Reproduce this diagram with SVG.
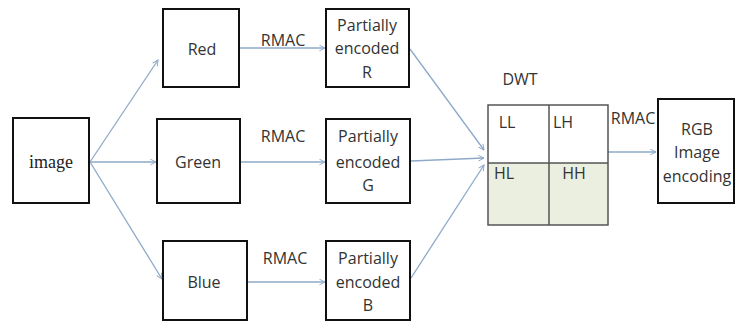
<svg xmlns="http://www.w3.org/2000/svg" width="736" height="322" viewBox="0 0 736 322">
<style>
.box{fill:#fff;stroke:#111;stroke-width:2}
.t{font-family:"Open Sans","Liberation Sans",sans-serif;font-size:16px;fill:#333;text-anchor:middle}
.c{stroke:#8ea9c8;stroke-width:1.3;fill:none;marker-end:url(#ah)}
.g{stroke:#555;stroke-width:1.5}
</style>
<defs>
<marker id="ah" viewBox="0 0 10 10" refX="9" refY="5" markerWidth="7" markerHeight="7" orient="auto" markerUnits="userSpaceOnUse">
<path d="M1,1 L9,5 L1,9" fill="none" stroke="#8ea9c8" stroke-width="1.4"/>
</marker>
</defs>
<rect width="736" height="322" fill="#fff"/>
<g id="connectors">
<line class="c" x1="90" y1="162" x2="158" y2="60"/>
<line class="c" x1="90" y1="162" x2="156" y2="162"/>
<line class="c" x1="90" y1="162" x2="162" y2="279"/>
<line class="c" x1="240" y1="48" x2="325" y2="48"/>
<line class="c" x1="241" y1="162" x2="325" y2="162"/>
<line class="c" x1="248" y1="282" x2="325" y2="282"/>
<line class="c" x1="410" y1="49" x2="484" y2="150"/>
<line class="c" x1="411" y1="161" x2="484" y2="158"/>
<line class="c" x1="411" y1="278" x2="484" y2="165"/>
<line class="c" x1="603" y1="152" x2="656" y2="152"/>
<text class="t" x="283" y="46">RMAC</text>
<text class="t" x="283" y="142">RMAC</text>
<text class="t" x="285" y="264">RMAC</text>
<text class="t" x="633" y="124">RMAC</text>
</g>
<g id="image">
<rect class="box" x="13" y="118" width="76" height="85"/>
<text x="51" y="168" font-family="Liberation Serif,serif" font-size="18" fill="#222" text-anchor="middle">image</text>
</g>
<g id="red">
<rect class="box" x="163" y="9" width="76" height="78"/>
<text class="t" x="202" y="55">Red</text>
</g>
<g id="green">
<rect class="box" x="157" y="119" width="83" height="84"/>
<text class="t" x="198" y="168">Green</text>
</g>
<g id="blue">
<rect class="box" x="163" y="241" width="84" height="79"/>
<text class="t" x="204" y="288">Blue</text>
</g>
<g id="partialR">
<rect class="box" x="326" y="9" width="83" height="78"/>
<text class="t" x="367" y="31">Partially</text>
<text class="t" x="367" y="54">encoded</text>
<text class="t" x="367" y="78">R</text>
</g>
<g id="partialG">
<rect class="box" x="326" y="119" width="84" height="84"/>
<text class="t" x="368" y="142">Partially</text>
<text class="t" x="368" y="168">encoded</text>
<text class="t" x="368" y="191">G</text>
</g>
<g id="partialB">
<rect class="box" x="326" y="241" width="84" height="79"/>
<text class="t" x="368" y="264">Partially</text>
<text class="t" x="368" y="288">encoded</text>
<text class="t" x="368" y="311">B</text>
</g>
<g id="dwt">
<text class="t" x="520" y="85">DWT</text>
<rect x="488" y="105" width="120" height="120" fill="#fff" stroke="none"/>
<rect x="488" y="163" width="120" height="62" fill="#ebefdf"/>
<rect x="488" y="105" width="120" height="120" fill="none" class="g"/>
<line class="g" x1="549" y1="105" x2="549" y2="225"/>
<line class="g" x1="488" y1="163" x2="608" y2="163"/>
<text class="t" x="507" y="128">LL</text>
<text class="t" x="563" y="128">LH</text>
<text class="t" x="504" y="179">HL</text>
<text class="t" x="574" y="179">HH</text>
</g>
<g id="rgb">
<rect class="box" x="658" y="99" width="76" height="104"/>
<text class="t" x="697" y="135">RGB</text>
<text class="t" x="697" y="158">Image</text>
<text class="t" x="697" y="182">encoding</text>
</g>
</svg>
